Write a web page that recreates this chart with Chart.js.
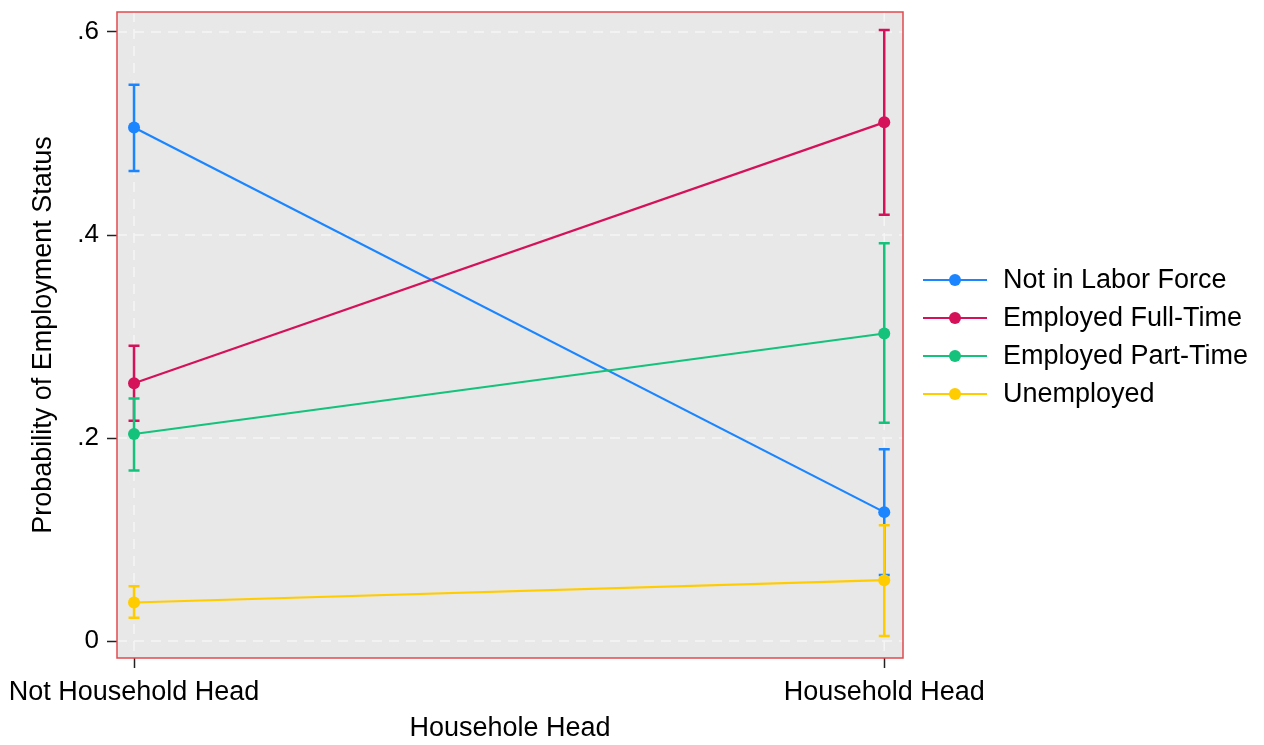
<!DOCTYPE html>
<html>
<head>
<meta charset="utf-8">
<script src="https://cdn.jsdelivr.net/npm/chart.js@4.4.0/dist/chart.umd.min.js"></script>
<style>
  html, body { margin: 0; padding: 0; background: #fff; }
  #wrap { width: 1264px; height: 745px; }
</style>
</head>
<body>
<div id="wrap"><canvas id="chart" width="1264" height="745"></canvas></div>
<script>
// categories on the x axis
const categories = ['Not Household Head', 'Household Head'];
const yTicks = [0, 0.2, 0.4, 0.6];

// series: point estimates and confidence limits, one value per category
const seriesNames = ['Not in Labor Force', 'Employed Full-Time', 'Employed Part-Time', 'Unemployed'];
const seriesColors = ['#1a85ff', '#d41159', '#14c27c', '#ffcc00'];
const notInLabor = [0.506, 0.127];
const notInLaborLo = [0.463, 0.065];
const notInLaborHi = [0.548, 0.189];
const fullTime = [0.254, 0.511];
const fullTimeLo = [0.217, 0.420];
const fullTimeHi = [0.291, 0.602];
const partTime = [0.204, 0.303];
const partTimeLo = [0.168, 0.215];
const partTimeHi = [0.239, 0.392];
const unemployed = [0.038, 0.060];
const unemployedLo = [0.023, 0.005];
const unemployedHi = [0.054, 0.114];

const values = [notInLabor, fullTime, partTime, unemployed];
const lows = [notInLaborLo, fullTimeLo, partTimeLo, unemployedLo];
const highs = [notInLaborHi, fullTimeHi, partTimeHi, unemployedHi];

const FONT = '"Liberation Sans", Arial, sans-serif';

// plot background, dashed grid, error bars and red frame
const framePlugin = {
  id: 'frame',
  beforeDatasetsDraw(chart) {
    const { ctx, chartArea: a, scales } = chart;
    ctx.save();
    ctx.fillStyle = '#e8e8e8';
    ctx.fillRect(a.left, a.top, a.right - a.left, a.bottom - a.top);
    ctx.strokeStyle = '#f5f5f5';
    ctx.lineWidth = 1.5;
    ctx.setLineDash([10, 7]);
    yTicks.forEach(v => {
      const y = scales.y.getPixelForValue(v);
      ctx.beginPath(); ctx.moveTo(a.left, y); ctx.lineTo(a.right, y); ctx.stroke();
    });
    categories.forEach((c, i) => {
      const x = scales.x.getPixelForValue(i);
      ctx.beginPath(); ctx.moveTo(x, a.top); ctx.lineTo(x, a.bottom); ctx.stroke();
    });
    ctx.setLineDash([]);

    // confidence intervals
    ctx.lineWidth = 2.5;
    values.forEach((s, k) => {
      ctx.strokeStyle = seriesColors[k];
      s.forEach((v, i) => {
        const x = scales.x.getPixelForValue(i);
        const y1 = scales.y.getPixelForValue(lows[k][i]);
        const y2 = scales.y.getPixelForValue(highs[k][i]);
        ctx.beginPath();
        ctx.moveTo(x, y1); ctx.lineTo(x, y2);
        ctx.moveTo(x - 5.5, y1); ctx.lineTo(x + 5.5, y1);
        ctx.moveTo(x - 5.5, y2); ctx.lineTo(x + 5.5, y2);
        ctx.stroke();
      });
    });
    ctx.restore();
  },
  afterDatasetsDraw(chart) {
    const { ctx, chartArea: a } = chart;
    ctx.save();
    ctx.strokeStyle = '#e2494e';
    ctx.lineWidth = 1.5;
    ctx.strokeRect(a.left, a.top, a.right - a.left, a.bottom - a.top);
    ctx.restore();
  }
};

// legend to the right of the plot
const legendPlugin = {
  id: 'sideLegend',
  afterDraw(chart) {
    const { ctx, chartArea: a } = chart;
    const mid = (a.top + a.bottom) / 2 + 2;
    const x0 = a.right + 20;
    ctx.save();
    ctx.font = '27px ' + FONT;
    ctx.textBaseline = 'middle';
    seriesNames.forEach((name, k) => {
      const y = mid + (k - (seriesNames.length - 1) / 2) * 38;
      ctx.strokeStyle = seriesColors[k];
      ctx.fillStyle = seriesColors[k];
      ctx.lineWidth = 2.2;
      ctx.beginPath(); ctx.moveTo(x0, y); ctx.lineTo(x0 + 64, y); ctx.stroke();
      ctx.beginPath(); ctx.arc(x0 + 32, y, 6, 0, Math.PI * 2); ctx.fill();
      ctx.fillStyle = '#000';
      ctx.fillText(name, x0 + 80, y + 1);
    });
    ctx.restore();
  }
};

const datasets = values.map((s, k) => ({
  label: seriesNames[k],
  data: s.map((v, i) => ({ x: i, y: v })),
  borderColor: seriesColors[k],
  backgroundColor: seriesColors[k],
  borderWidth: 2.2,
  pointRadius: 6,
  pointHoverRadius: 6,
  pointBorderWidth: 0,
  showLine: true,
  order: seriesNames.length - k
}));

new Chart(document.getElementById('chart'), {
  type: 'scatter',
  data: { datasets },
  plugins: [framePlugin, legendPlugin],
  options: {
    responsive: false,
    animation: false,
    events: [],
    layout: { padding: { top: 12, right: 361, left: 0, bottom: 0 } },
    plugins: { legend: { display: false }, tooltip: { enabled: false } },
    scales: {
      x: {
        type: 'linear',
        min: -0.0227,
        max: 1.025,
        afterBuildTicks: scale => { scale.ticks = categories.map((c, i) => ({ value: i })); },
        afterFit: scale => { scale.height = 87; scale.paddingLeft = 0; scale.paddingRight = 0; },
        border: { display: false },
        grid: { drawOnChartArea: false, tickLength: 10, tickColor: '#222', tickWidth: 1.5 },
        ticks: {
          autoSkip: false, maxRotation: 0, padding: 8,
          color: '#000', font: { family: FONT, size: 27 },
          callback: v => categories[v]
        },
        title: { display: true, text: 'Househole Head', color: '#000', font: { family: FONT, size: 27 }, padding: { top: 0, bottom: 0 } }
      },
      y: {
        type: 'linear',
        min: -0.0167,
        max: 0.6197,
        afterBuildTicks: scale => { scale.ticks = yTicks.map(v => ({ value: v })); },
        afterFit: scale => { scale.width = 117; scale.paddingTop = 0; scale.paddingBottom = 0; },
        border: { display: false },
        grid: { drawOnChartArea: false, tickLength: 10, tickColor: '#222', tickWidth: 1.5 },
        ticks: {
          padding: 8, color: '#000', font: { family: FONT, size: 26 },
          callback: v => v === 0 ? '0' : String(v.toFixed(1)).replace(/^0/, '')
        },
        title: { display: true, text: 'Probability of Employment Status', color: '#000', font: { family: FONT, size: 27 }, padding: { top: 27, bottom: 0 } }
      }
    }
  }
});
</script>
</body>
</html>
